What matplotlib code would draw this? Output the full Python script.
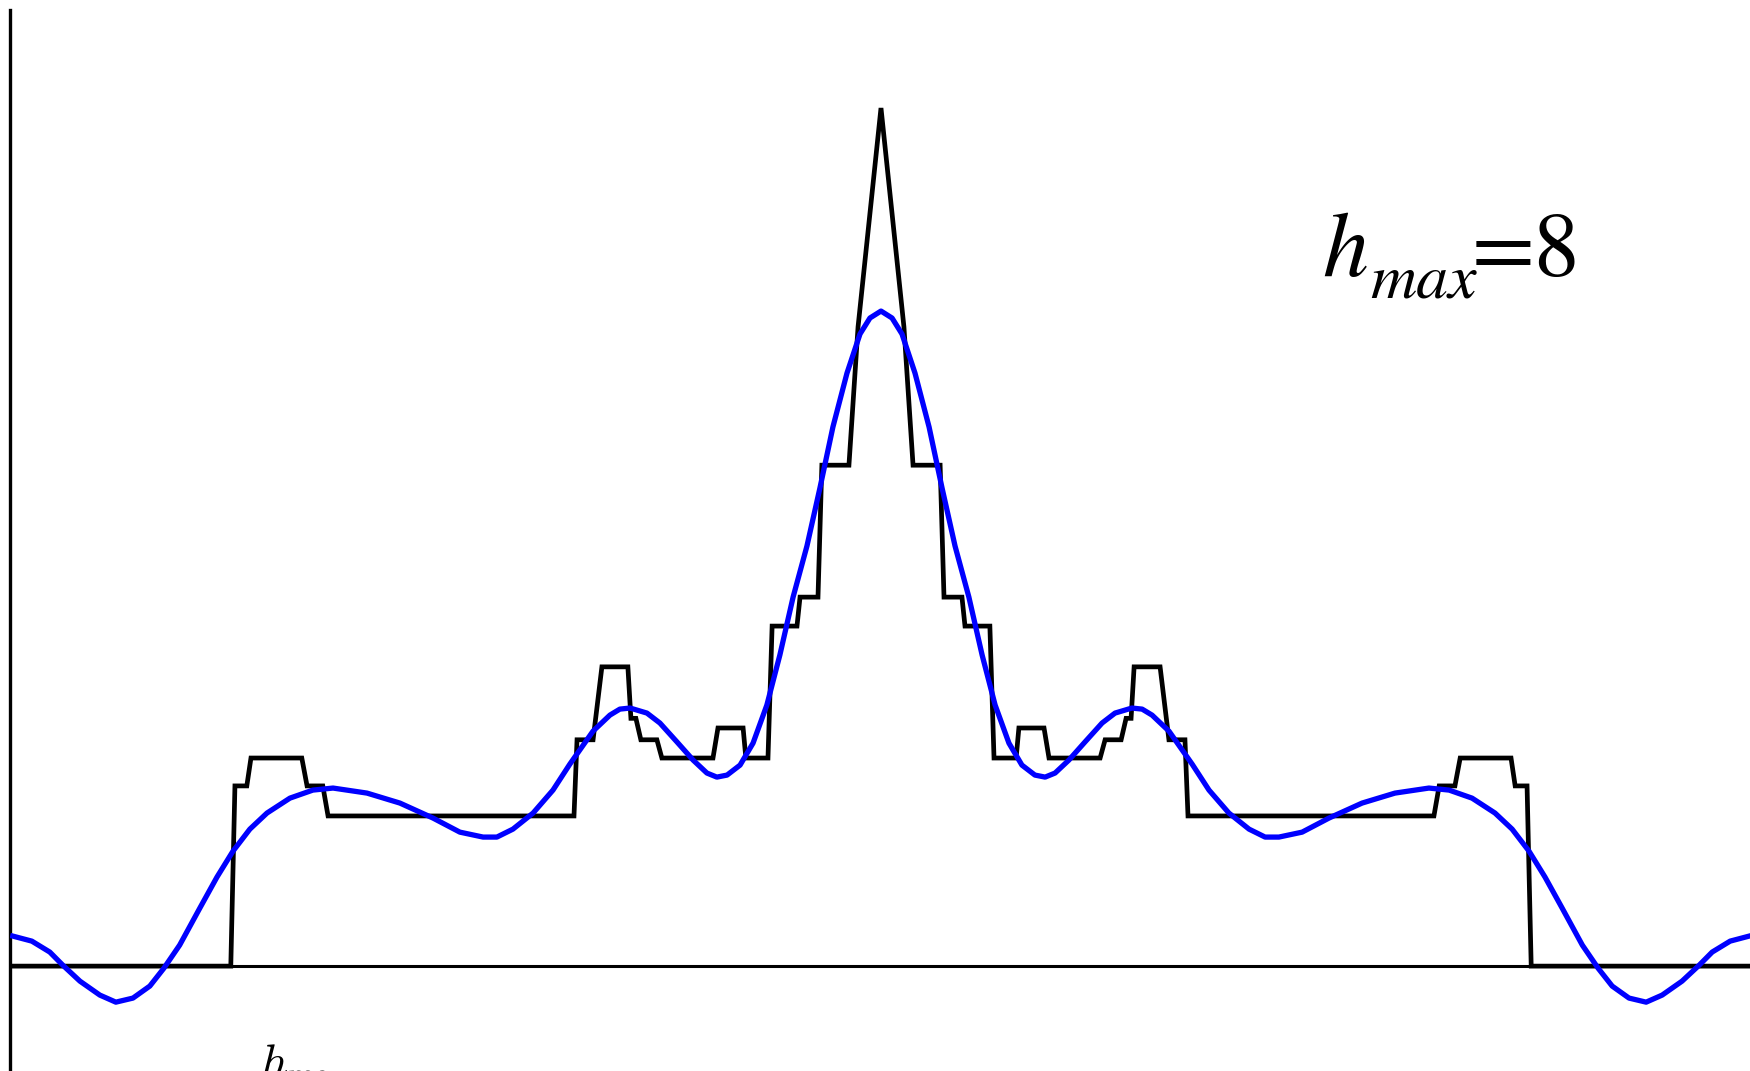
import matplotlib
matplotlib.use("Agg")
import matplotlib.pyplot as plt

# piecewise-linear profile h(x)
step_x = [-3.142, -2.353, -2.338, -2.295, -2.280, -2.096, -2.077, -2.020, -2.001,
          -1.111, -1.100, -1.042, -1.010, -0.916, -0.905, -0.887, -0.869, -0.811,
          -0.793, -0.608, -0.590, -0.499, -0.489, -0.409, -0.394, -0.304, -0.293,
          -0.228, -0.214, -0.116, -0.083, 0.000,
          0.083, 0.116, 0.214, 0.228, 0.293, 0.304, 0.394, 0.409, 0.489, 0.499,
          0.590, 0.608, 0.793, 0.811, 0.869, 0.887, 0.905, 0.916, 1.010, 1.042,
          1.100, 1.111, 2.001, 2.020, 2.077, 2.096, 2.280, 2.295, 2.338, 2.353, 3.142]
step_y = [0.00, 0.00, 1.68, 1.68, 1.94, 1.94, 1.68, 1.68, 1.40,
          1.40, 2.11, 2.11, 2.79, 2.79, 2.31, 2.31, 2.11, 2.11,
          1.94, 1.94, 2.22, 2.22, 1.94, 1.94, 3.17, 3.17, 3.44,
          3.44, 4.67, 4.67, 5.96, 8.00,
          5.96, 4.67, 4.67, 3.44, 3.44, 3.17, 3.17, 1.94, 1.94, 2.22,
          2.22, 1.94, 1.94, 2.11, 2.11, 2.31, 2.31, 2.79, 2.79, 2.11,
          2.11, 1.40, 1.40, 1.68, 1.68, 1.94, 1.94, 1.68, 1.68, 0.00, 0.00]

# truncated series approximation (blue)
fit_x = [-3.142, -3.073, -3.008, -2.961, -2.899, -2.827, -2.769, -2.707, -2.646,
         -2.595, -2.538, -2.465, -2.403, -2.345, -2.284, -2.222, -2.139, -2.056,
         -1.983, -1.860, -1.741, -1.621, -1.524, -1.440, -1.390, -1.332, -1.259,
         -1.187, -1.126, -1.042, -0.981, -0.945, -0.908, -0.847, -0.800, -0.738,
         -0.680, -0.630, -0.594, -0.557, -0.510, -0.463, -0.413, -0.366, -0.318,
         -0.268, -0.221, -0.174, -0.123, -0.076, -0.040, 0.000,
         0.040, 0.076, 0.123, 0.174, 0.221, 0.268, 0.318, 0.366, 0.413, 0.463,
         0.510, 0.557, 0.594, 0.630, 0.680, 0.738, 0.800, 0.847, 0.908, 0.945,
         0.981, 1.042, 1.126, 1.187, 1.259, 1.332, 1.390, 1.440, 1.524, 1.621,
         1.741, 1.860, 1.983, 2.056, 2.139, 2.222, 2.284, 2.345, 2.403, 2.465,
         2.538, 2.595, 2.646, 2.707, 2.769, 2.827, 2.899, 2.961, 3.008, 3.073, 3.142]
fit_y = [0.280, 0.233, 0.131, 0.009, -0.140, -0.270, -0.336, -0.298, -0.186,
         -0.019, 0.196, 0.541, 0.830, 1.072, 1.277, 1.427, 1.566, 1.641,
         1.660, 1.613, 1.520, 1.380, 1.249, 1.203, 1.203, 1.277, 1.427,
         1.641, 1.883, 2.191, 2.340, 2.396, 2.406, 2.359, 2.266, 2.089,
         1.921, 1.800, 1.762, 1.781, 1.874, 2.079, 2.434, 2.900, 3.441,
         3.916, 4.457, 5.026, 5.529, 5.893, 6.042, 6.107,
         6.042, 5.893, 5.529, 5.026, 4.457, 3.916, 3.441, 2.900, 2.434, 2.079,
         1.874, 1.781, 1.762, 1.800, 1.921, 2.089, 2.266, 2.359, 2.406, 2.396,
         2.340, 2.191, 1.883, 1.641, 1.427, 1.277, 1.203, 1.203, 1.249, 1.380,
         1.520, 1.613, 1.660, 1.641, 1.566, 1.427, 1.277, 1.072, 0.830, 0.541,
         0.196, -0.019, -0.186, -0.298, -0.336, -0.270, -0.140, 0.009, 0.131, 0.233, 0.280]

h_max = 8

W, H = 1750, 1071
fig = plt.figure(figsize=(W / 100, H / 100), dpi=100)
ax = fig.add_axes([10 / W, -0.0523, 1.0, 1.0430])
ax.set_xlim(-3.152, 3.181)
ax.set_ylim(-1.5, 8.914)

ax.axhline(0, color='black', lw=2.2, zorder=1)
ax.plot(step_x, step_y, color='black', lw=3.4, solid_joinstyle='miter', zorder=2)
ax.plot(fit_x, fit_y, color='blue', lw=3.8, zorder=3)

for side in ['top', 'right', 'bottom']:
    ax.spines[side].set_visible(False)
ax.spines['left'].set_linewidth(2.4)
ax.set_xticks([])
ax.set_yticks([])

# big label, built from pieces so the subscript sits low like the original
def px(x, y):
    return x / W, 1 - y / H

fig.text(*px(1322, 276), 'h', family='STIXGeneral', style='italic', fontsize=66,
         ha='left', va='baseline')
fig.text(*px(1370, 298), 'max', family='STIXGeneral', style='italic', fontsize=46,
         ha='left', va='baseline')
fig.text(*px(1472, 276), '=' + str(h_max), family='STIXGeneral', fontsize=66,
         ha='left', va='baseline')

# axis label, cut off by the lower edge as in the original
fig.text(*px(260, 1077), r'$h_{\max}$', fontsize=34,
         math_fontfamily='cm', ha='left', va='baseline')

fig.savefig('out.png', dpi=100)
